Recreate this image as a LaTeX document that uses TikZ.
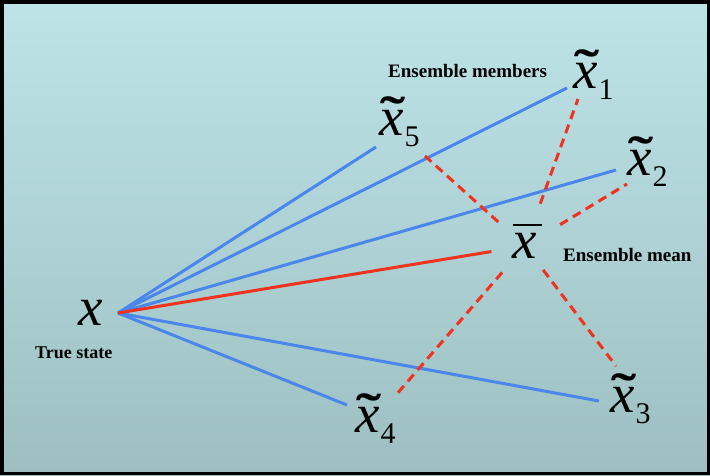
\documentclass[tikz,border=0pt]{standalone}
\usepackage{fontspec}
\setmainfont{Liberation Serif}
\usepackage{tikz}
\usetikzlibrary{calc, positioning}
\definecolor{bgtop}{RGB}{190,228,232}
\definecolor{bgbottom}{RGB}{157,191,193}
\definecolor{memberblue}{RGB}{74,134,236}
\definecolor{meanred}{RGB}{240,50,30}
\newcommand{\memb}[1]{\makebox[0pt][l]{\kern1pt\raisebox{4pt}{\scalebox{1.5}[1]{\fontsize{50}{50}\selectfont\upshape\bfseries\char"02DC}}}x\kern1pt\raisebox{-11pt}{\fontsize{30}{30}\selectfont\upshape #1}}
\newcommand{\meanx}{\makebox[0pt][l]{\kern1pt\raisebox{32pt}{\rule{29pt}{2pt}}}x}
\tikzset{
	letter/.style={
		inner sep=0pt,
		anchor=base west,
		font=\fontsize{55}{55}\selectfont\itshape
	},
	caption/.style={
		inner sep=0pt,
		anchor=base west,
		font=\fontsize{19}{19}\selectfont\bfseries
	},
	edge/.style={
		draw=memberblue,
		line width=3pt
	},
	mean edge/.style={
		draw=meanred,
		line width=3pt
	},
	spread/.style={
		draw=meanred,
		line width=3pt,
		dash pattern=on 9pt off 6pt
	}
}

\begin{document}
\begin{tikzpicture}[x=1pt, y=-1pt]
\useasboundingbox (0,0) rectangle (710,475);
\shade[top color=bgtop, bottom color=bgbottom] (0,0) rectangle (710,475);
\draw[line width=3.5pt] (1.75,1.75) rectangle (708.25,473.25);

\node[letter] (x) at (78,325) {x};
\node[caption, font=\fontsize{18}{18}\selectfont\bfseries] (truth) at (35,358) {True state};
\node[letter] (m1) at (573,88) {\memb{1}};
\node[letter] (m2) at (627,175) {\memb{2}};
\node[letter] (m3) at (610,412) {\memb{3}};
\node[letter] (m4) at (355,432) {\memb{4}};
\node[letter] (m5) at (379,135) {\memb{5}};
\node[letter] (mean) at (512,258) {\meanx};
\node[caption] (members) at (388,77) {Ensemble members};
\node[caption] (meanlabel) at (563,261) {Ensemble mean};

\coordinate (o) at (118,313);
\coordinate (c) at (525,246);
\coordinate (e1) at (567,88);
\coordinate (e2) at (616,170);
\coordinate (e3) at (599,401);
\coordinate (e4) at (347,405);
\coordinate (e5) at (376,147);
\coordinate (d1) at (578,99);
\coordinate (d2) at (627,184);
\coordinate (d3) at (616,366);
\coordinate (d4) at (396,395);
\coordinate (d5) at (425,156);

\draw[edge] (o) -- (e1);
\draw[edge] (o) -- (e2);
\draw[edge] (o) -- (e3);
\draw[edge] (o) -- (e4);
\draw[edge] (o) -- (e5);
\draw[mean edge, shorten >=34pt] (o) -- (c);

\draw[spread, shorten <=45pt] (c) -- (d1);
\draw[spread, shorten <=41pt] (c) -- (d2);
\draw[spread, shorten <=30pt] (c) -- (d3);
\draw[spread, shorten <=35pt] (c) -- (d4);
\draw[spread, shorten <=36pt] (c) -- (d5);
\end{tikzpicture}
\end{document}
